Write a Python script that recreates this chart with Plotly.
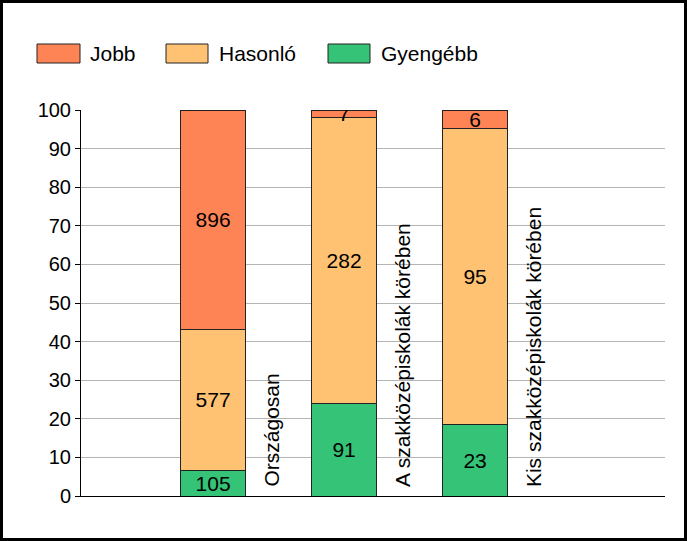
import plotly.graph_objects as go

CATEGORIES = ["Országosan", "A szakközépiskolák körében", "Kis szakközépiskolák körében"]

SERIES_NAMES = ["Gyengébb", "Hasonló", "Jobb"]
GYENGEBB = [105, 91, 23]
HASONLO = [577, 282, 95]
JOBB = [896, 7, 6]

COLORS = {
    "Jobb": "#FF8455",
    "Hasonló": "#FFC272",
    "Gyengébb": "#34C377",
}

Y_TICKS = list(range(0, 101, 10))

FONT = "Liberation Sans, Arial, sans-serif"

# figure geometry (pixels)
W, H = 687, 541
ML, MR, MT, MB = 81, 22, 110, 45
PW, PH = W - ML - MR, H - MT - MB


def px_x(px):
    return (px - ML) / PW


def px_y(py):
    return (H - MB - py) / PH


values = {"Gyengébb": GYENGEBB, "Hasonló": HASONLO, "Jobb": JOBB}

fig = go.Figure()
for name in SERIES_NAMES:
    fig.add_trace(go.Bar(
        x=CATEGORIES,
        y=values[name],
        name=name,
        width=0.5,
        text=values[name],
        textposition="inside",
        insidetextanchor="middle",
        textangle=0,
        textfont=dict(size=21, color="black", family=FONT),
        marker=dict(color=COLORS[name], line=dict(color="#222222", width=1)),
        showlegend=False,
        hoverinfo="skip",
    ))

# rotated category labels to the right of each bar
for cat in CATEGORIES:
    fig.add_annotation(
        x=cat, y=0, xref="x", yref="y",
        text=cat, textangle=-90,
        xanchor="center", yanchor="bottom",
        xshift=58, yshift=7,
        showarrow=False,
        font=dict(size=21, color="black", family=FONT),
    )

# legend drawn by hand: wide swatches like the original
legend_items = [("Jobb", 37, 80, 88), ("Hasonló", 166, 208, 217), ("Gyengébb", 328, 370, 379)]
for name, x0, x1, tx in legend_items:
    fig.add_shape(
        type="rect", xref="paper", yref="paper",
        x0=px_x(x0), x1=px_x(x1), y0=px_y(63), y1=px_y(44),
        fillcolor=COLORS[name], line=dict(color="#222222", width=1),
    )
    fig.add_annotation(
        x=px_x(tx), y=px_y(53.5), xref="paper", yref="paper",
        text=name, xanchor="left", yanchor="middle", showarrow=False,
        font=dict(size=21, color="black", family=FONT),
    )

# outer frame
fig.add_shape(
    type="rect", xref="paper", yref="paper",
    x0=px_x(1.5), x1=px_x(W - 1.5), y0=px_y(H - 1.5), y1=px_y(1.5),
    line=dict(color="black", width=3), fillcolor="rgba(0,0,0,0)",
)

fig.update_layout(
    width=W, height=H,
    margin=dict(l=ML, r=MR, t=MT, b=MB),
    barmode="stack",
    barnorm="percent",
    plot_bgcolor="white",
    paper_bgcolor="white",
    font=dict(family=FONT, color="black"),
    uniformtext=dict(minsize=21, mode="show"),
    xaxis=dict(
        range=[-1.008, 3.45],
        showticklabels=False,
        ticks="",
        showgrid=False,
        showline=True, linecolor="black", linewidth=1,
        zeroline=False,
        fixedrange=True,
    ),
    yaxis=dict(
        range=[0, 100],
        tickvals=Y_TICKS,
        ticks="outside", ticklen=5, tickcolor="black",
        tickfont=dict(size=20, family=FONT, color="black"),
        showgrid=True, gridcolor="#B4B4B4", gridwidth=1,
        showline=True, linecolor="black", linewidth=1,
        zeroline=False,
        fixedrange=True,
    ),
)

fig.write_html(
    "out.html",
    config={"displayModeBar": False},
    post_script="document.body.style.margin='0';",
)
